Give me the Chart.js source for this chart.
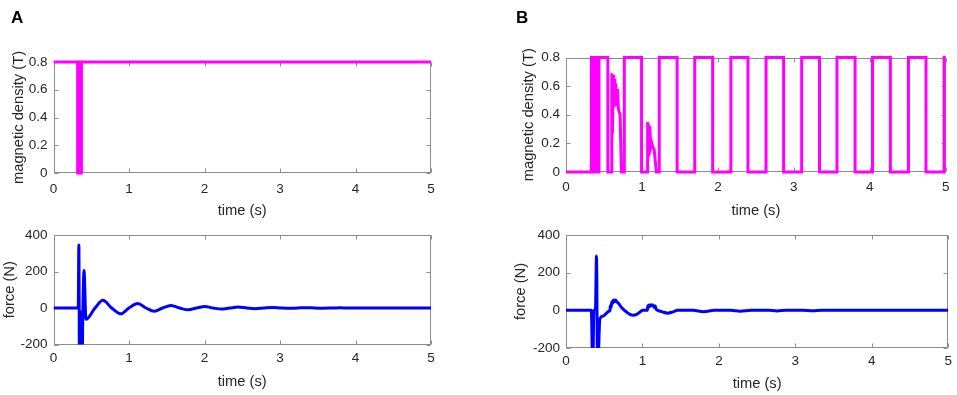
<!DOCTYPE html>
<html>
<head>
<meta charset="utf-8">
<script src="https://cdn.jsdelivr.net/npm/chart.js@4/dist/chart.umd.min.js"></script>
<style>
  html, body { margin: 0; padding: 0; background: #ffffff; }
  #wrap { position: relative; width: 957px; height: 395px; overflow: hidden; background: #fff; }
  canvas { position: absolute; left: 0; top: 0; }
  .plabel { position: absolute; font-family: "Liberation Sans", Arial, sans-serif; font-weight: bold; font-size: 17px; line-height: normal; color: #000; }
</style>
</head>
<body>
<div id="wrap">
  <canvas id="cA1" width="957" height="395"></canvas>
  <canvas id="cA2" width="957" height="395"></canvas>
  <canvas id="cB1" width="957" height="395"></canvas>
  <canvas id="cB2" width="957" height="395"></canvas>
  <div class="plabel" style="left:11px; top:8px;">A</div>
  <div class="plabel" style="left:516px; top:8px;">B</div>
</div>
<script>
// ---------------- DATA ----------------
const timeTicks = [0, 1, 2, 3, 4, 5];
const magTicks = [0, 0.2, 0.4, 0.6, 0.8];
const forceTicks = [-200, 0, 200, 400];

const xTitle = "time (s)";
const magTitle = "magnetic density (T)";
const forceTitle = "force (N)";

// Panel A - magnetic density (vertical edges as repeated times)
const magA_t = [0, 0.32, 0.32, 0.33, 0.33, 0.34, 0.34, 0.35, 0.35, 0.36, 0.36, 0.37, 0.37, 5];
const magA_v = [0.8, 0.8, 0, 0, 0.8, 0.8, 0, 0, 0.8, 0.8, 0, 0, 0.8, 0.8];

// Panel A - force
const forceA_t = [0, 0.328, 0.336, 0.344, 0.350, 0.356, 0.362, 0.368, 0.374, 0.380, 0.388, 0.404, 0.43,
  0.55, 0.655, 0.77, 0.89, 1.0, 1.115, 1.225, 1.335, 1.445, 1.555, 1.67, 1.785, 1.895, 2.005, 2.115,
  2.225, 2.335, 2.445, 2.56, 2.675, 2.79, 2.9, 3.01, 3.125, 3.235, 3.35, 3.46, 3.575, 3.69, 3.8, 3.91, 4.05, 5];
const forceA_v = [0, 0, 345, -300, -20, -300, -20, -300, -20, -300, -40, 205, -62,
  0, 42, 0, -32, 0, 24, 0, -18, 0, 14, 0, -10, 0, 8, 0,
  -6, 0, 5, 0, -4, 0, 3, 0, -2, 0, 2, 0, -1, 0, 1, 0, 0, 0];

// Panel B - magnetic density
const magB_t = [0, 0.334, 0.334, 0.345, 0.345, 0.355, 0.355, 0.37, 0.37, 0.387, 0.387, 0.398, 0.398, 0.408, 0.408,
  0.418, 0.418, 0.434, 0.434, 0.551, 0.551, 0.603, 0.603, 0.612, 0.62, 0.628, 0.635, 0.642, 0.65, 0.657, 0.665,
  0.672, 0.68, 0.69, 0.70, 0.712, 0.73, 0.768, 0.768, 0.995, 0.995, 1.072, 1.075, 1.082, 1.09, 1.097, 1.105, 1.115,
  1.13, 1.145, 1.16, 1.19, 1.228, 1.228, 1.463, 1.463, 1.695, 1.695, 1.931, 1.931, 2.171, 2.171, 2.396, 2.396,
  2.634, 2.634, 2.865, 2.865, 3.103, 3.103, 3.338, 3.338, 3.568, 3.568, 3.806, 3.806, 4.036, 4.036, 4.271, 4.271,
  4.509, 4.509, 4.74, 4.74, 4.978, 4.978, 5];
const magB_v = [0, 0, 0.8, 0.8, 0, 0, 0.8, 0.8, 0, 0, 0.8, 0.8, 0, 0, 0.8,
  0.8, 0, 0, 0.8, 0.8, 0, 0, 0.69, 0.27, 0.68, 0.45, 0.65, 0.5, 0.62, 0.46, 0.58,
  0.47, 0.58, 0.44, 0.42, 0.40, 0, 0, 0.8, 0.8, 0, 0, 0.35, 0.12, 0.33, 0.15, 0.32, 0.17,
  0.2, 0.17, 0.16, 0, 0, 0.8, 0.8, 0, 0, 0.8, 0.8, 0, 0, 0.8, 0.8, 0,
  0, 0.8, 0.8, 0, 0, 0.8, 0.8, 0, 0, 0.8, 0.8, 0, 0, 0.8, 0.8, 0,
  0, 0.8, 0.8, 0, 0, 0.8, 0.8];

// Panel B - force
const forceB_t = [0, 0.332, 0.349, 0.365, 0.385, 0.399, 0.413, 0.443, 0.49, 0.53, 0.56, 0.575,
  0.58, 0.59, 0.60, 0.61, 0.62, 0.635, 0.65, 0.665, 0.68, 0.70, 0.72, 0.75, 0.78, 0.83, 0.88, 0.93, 0.98, 1.0,
  1.065, 1.07, 1.08, 1.09, 1.105, 1.12, 1.14, 1.155, 1.165, 1.18, 1.2, 1.26, 1.33, 1.40, 1.46,
  1.66, 1.8, 1.94, 2.15, 2.28, 2.42, 2.65, 2.76, 2.88, 3.1, 3.22, 3.35, 5];
const forceB_v = [0, 0, -340, 0, 5, 288, -340, -45, -30, -15, -5, 0,
  25, 15, 45, 35, 55, 45, 55, 45, 40, 30, 18, 5, -5, -20, -26, -20, -5, 0,
  0, 25, 15, 30, 22, 30, 25, 15, 25, 5, 0, -8, -15, -8, 0,
  0, -8, 0, 0, -5, 0, 0, -3, 0, 0, -2, 0, 0];

// ---------------- DRAWING ----------------
const FONT = '"Liberation Sans", Arial, Helvetica, sans-serif';
const TEXT = '#262626';
const AXIS = '#8c8c8c';

const boxPlugin = {
  id: 'matlabBox',
  beforeDatasetsDraw(chart) {
    const ctx = chart.ctx;
    const a = chart.chartArea;
    const x = chart.scales.x, y = chart.scales.y;
    ctx.save();
    ctx.strokeStyle = AXIS;
    ctx.lineWidth = 1;
    const L = Math.round(a.left) + 0.5, R = Math.round(a.right) - 0.5;
    const T = Math.round(a.top) + 0.5, B = Math.round(a.bottom) - 0.5;
    ctx.strokeRect(L, T, R - L, B - T);
    ctx.beginPath();
    x.ticks.forEach(t => {
      const px = Math.round(x.getPixelForValue(t.value)) + 0.5;
      ctx.moveTo(px, B); ctx.lineTo(px, B - 4);
      ctx.moveTo(px, T); ctx.lineTo(px, T + 4);
    });
    y.ticks.forEach(t => {
      const py = Math.round(y.getPixelForValue(t.value)) + 0.5;
      ctx.moveTo(L, py); ctx.lineTo(L + 4, py);
      ctx.moveTo(R, py); ctx.lineTo(R - 4, py);
    });
    ctx.stroke();
    ctx.restore();
  }
};

function zip(ts, vs) { return ts.map((t, i) => ({ x: t, y: vs[i] })); }

function makePanel(id, cfg) {
  const halfLine = 14.7 * 1.2 / 2;
  const xAxisH = cfg.xTitleY + halfLine - cfg.b;
  return new Chart(document.getElementById(id), {
    type: 'line',
    data: {
      datasets: [{
        data: zip(cfg.t, cfg.v),
        borderColor: cfg.color,
        borderWidth: 3,
        pointRadius: 0,
        tension: 0,
        cubicInterpolationMode: cfg.smooth ? 'monotone' : 'default',
        clip: cfg.clip,
        fill: false
      }]
    },
    options: {
      responsive: false,
      animation: false,
      events: [],
      layout: { padding: { left: 0, top: cfg.t0, right: 957 - cfg.r, bottom: 395 - cfg.b - xAxisH } },
      plugins: { legend: { display: false }, tooltip: { enabled: false }, title: { display: false } },
      scales: {
        x: {
          type: 'linear', min: 0, max: 5,
          afterBuildTicks: s => { s.ticks = timeTicks.map(v => ({ value: v })); },
          afterFit: s => { s.height = xAxisH; },
          grid: { display: false, drawTicks: false },
          border: { display: false },
          ticks: { padding: cfg.xPad, maxRotation: 0, autoSkip: false, color: TEXT,
                   font: { family: FONT, size: 13.5 }, callback: v => String(v) },
          title: { display: true, text: xTitle, color: TEXT, padding: { top: 0, bottom: 0 },
                   font: { family: FONT, size: 14.7 } }
        },
        y: {
          type: 'linear', min: cfg.ymin, max: cfg.ymax,
          afterBuildTicks: s => { s.ticks = cfg.yticks.map(v => ({ value: v })); },
          afterFit: s => { s.width = cfg.l; },
          grid: { display: false, drawTicks: false },
          border: { display: false },
          ticks: { padding: 6, autoSkip: false, color: TEXT,
                   font: { family: FONT, size: 13.5 }, callback: v => String(v) },
          title: { display: true, text: cfg.ytitle, color: TEXT,
                   padding: { top: cfg.yTitleX - halfLine, bottom: 0 },
                   font: { family: FONT, size: 14.7 } }
        }
      }
    },
    plugins: [boxPlugin]
  });
}

const magClip = { left: 0, top: 3, right: 2, bottom: 3 };

makePanel('cA1', { t: magA_t, v: magA_v, color: '#ff00ff', smooth: false, clip: magClip,
  l: 53.5, r: 431, t0: 62, b: 173, xTitleY: 210.5, xPad: 8, yTitleX: 18.5,
  ymin: 0, ymax: 0.8, yticks: magTicks, ytitle: magTitle });

makePanel('cA2', { t: forceA_t, v: forceA_v, color: '#0000ff', smooth: true, clip: 0,
  l: 53.5, r: 431, t0: 235, b: 344.5, xTitleY: 381.5, xPad: 6, yTitleX: 9.5,
  ymin: -200, ymax: 400, yticks: forceTicks, ytitle: forceTitle });

makePanel('cB1', { t: magB_t, v: magB_v, color: '#ff00ff', smooth: false, clip: magClip,
  l: 566, r: 950.5, t0: 57.5, b: 172, xTitleY: 210.5, xPad: 7.5, yTitleX: 529,
  ymin: 0, ymax: 0.8, yticks: magTicks, ytitle: magTitle });

makePanel('cB2', { t: forceB_t, v: forceB_v, color: '#0000ff', smooth: true, clip: 0,
  l: 566, r: 950.5, t0: 235, b: 348, xTitleY: 383.5, xPad: 5, yTitleX: 521,
  ymin: -200, ymax: 400, yticks: forceTicks, ytitle: forceTitle });
</script>
</body>
</html>
